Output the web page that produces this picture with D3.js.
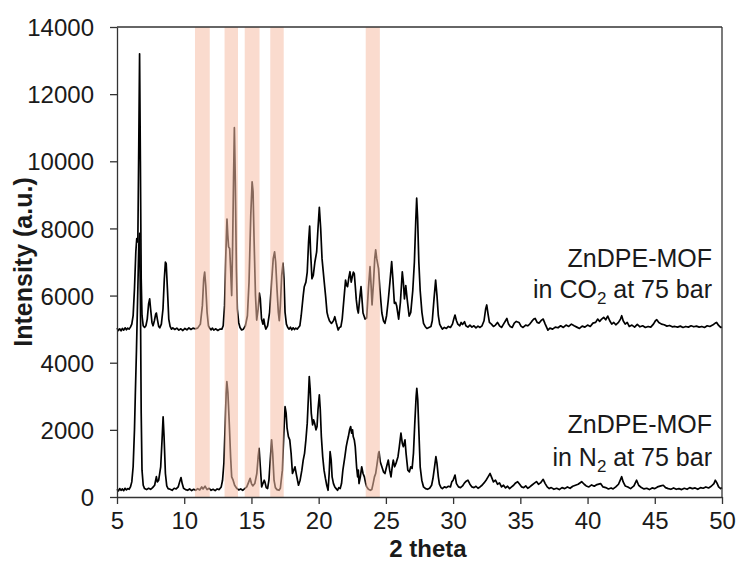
<!DOCTYPE html>
<html>
<head>
<meta charset="utf-8">
<script src="https://cdn.jsdelivr.net/npm/d3@7"></script>
<style>
  html, body { margin: 0; padding: 0; background: #fff; }
  svg { display: block; font-family: "Liberation Sans", Arial, sans-serif; }
</style>
</head>
<body>
<svg id="chart" width="738" height="563"></svg>
<script>
// ---- data ----
const xTicks = [5, 10, 15, 20, 25, 30, 35, 40, 45, 50];
const yTicks = [0, 2000, 4000, 6000, 8000, 10000, 12000, 14000];
const highlightBands = [[10.8, 11.9], [13.0, 14.0], [14.5, 15.6], [16.4, 17.4], [23.5, 24.55]];
const labelCO2 = ["ZnDPE-MOF", "in CO", "2", " at 75 bar"];
const labelN2 = ["ZnDPE-MOF", "in N", "2", " at 75 bar"];

// ZnDPE-MOF in CO2 at 75 bar : [2 theta, intensity]
const co2Pattern = [
[5.0,5030],[5.1,4960],[5.2,5010],[5.3,4950],[5.4,5020],[5.5,4970],[5.6,5040],[5.7,4980],[5.8,5030],[5.9,5000],
[6.0,5060],[6.1,5150],[6.2,5400],[6.3,6200],[6.4,7300],[6.47,7700],[6.55,7600],[6.62,10500],[6.68,13200],[6.74,10000],
[6.8,6500],[6.86,5400],[6.95,5100],[7.05,5050],[7.15,5100],[7.25,5300],[7.35,5750],[7.43,5900],[7.5,5600],[7.6,5200],
[7.68,5100],[7.78,5250],[7.88,5450],[7.93,5480],[8.0,5300],[8.1,5080],[8.18,5040],[8.3,5150],[8.42,5600],[8.52,6500],
[8.6,7000],[8.66,6950],[8.75,6200],[8.85,5300],[8.95,5080],[9.05,5000],[9.15,5040],[9.3,4990],[9.45,5030],[9.6,4970],
[9.75,5010],[9.9,4960],[10.05,5020],[10.2,4980],[10.35,5040],[10.5,4990],[10.65,5030],[10.8,5010],[11.0,5030],[11.2,5150],
[11.35,5700],[11.45,6500],[11.52,6700],[11.6,6300],[11.7,5500],[11.8,5100],[11.9,5020],[12.0,4980],[12.1,5030],[12.2,4970],
[12.35,5010],[12.5,4960],[12.65,5000],[12.8,5000],[12.9,5100],[13.0,5700],[13.1,7300],[13.18,8280],[13.24,7800],[13.3,7450],
[13.38,7400],[13.45,6800],[13.53,6000],[13.6,7500],[13.67,9500],[13.73,11000],[13.8,9400],[13.88,6800],[13.95,5600],[14.05,5200],
[14.15,5050],[14.27,4975],[14.4,5000],[14.55,5100],[14.7,5400],[14.82,6400],[14.95,8400],[15.05,9390],[15.12,9100],[15.2,7600],
[15.3,6000],[15.39,5270],[15.5,5600],[15.59,6070],[15.66,5900],[15.75,5300],[15.85,5150],[15.92,5300],[16.0,5100],[16.07,5000],
[16.2,5100],[16.35,5500],[16.5,6400],[16.62,7100],[16.72,7300],[16.8,7000],[16.9,6200],[17.0,5500],[17.07,5250],[17.15,5700],
[17.25,6600],[17.35,6970],[17.42,6500],[17.5,5500],[17.6,5150],[17.7,5050],[17.8,5000],[17.9,5060],[18.0,4980],[18.1,5040],
[18.2,4990],[18.3,5030],[18.4,5000],[18.5,5050],[18.6,5100],[18.7,5400],[18.85,6000],[18.93,6265],[19.05,6400],[19.15,6700],
[19.25,7600],[19.33,8070],[19.4,7300],[19.5,6500],[19.6,6600],[19.72,7000],[19.85,7300],[19.95,8000],[20.05,8630],[20.15,8000],
[20.25,7100],[20.4,6460],[20.52,5970],[20.62,5500],[20.7,5370],[20.8,5250],[20.95,5170],[21.1,5250],[21.2,5370],[21.3,5200],
[21.45,4975],[21.55,5050],[21.65,5070],[21.75,5300],[21.88,5900],[22.0,6460],[22.08,6300],[22.15,6265],[22.25,6550],[22.33,6710],
[22.42,6400],[22.5,6560],[22.58,6700],[22.65,6650],[22.72,6300],[22.8,5870],[22.88,5600],[22.95,5480],[23.05,5900],[23.15,6265],
[23.22,5900],[23.3,5480],[23.45,5300],[23.57,5330],[23.7,6200],[23.82,6860],[23.9,6300],[23.97,5720],[24.08,6400],[24.17,7100],
[24.24,7360],[24.32,7100],[24.45,6810],[24.55,6200],[24.7,5480],[24.82,5250],[24.93,5170],[25.05,5400],[25.18,5875],[25.3,6400],
[25.43,7010],[25.52,6500],[25.63,5770],[25.72,5800],[25.8,5700],[25.95,5300],[26.08,5800],[26.22,6710],[26.3,6400],[26.38,5900],
[26.48,6300],[26.58,5900],[26.73,5385],[26.85,5500],[27.0,6150],[27.12,7000],[27.22,8200],[27.29,8900],[27.36,8300],[27.45,7000],
[27.55,6150],[27.68,5500],[27.8,5170],[27.92,5080],[28.05,5020],[28.2,5050],[28.35,5080],[28.45,5250],[28.58,5900],[28.7,6460],
[28.8,6000],[28.9,5400],[29.0,5150],[29.1,5070],[29.2,5000],[29.35,5050],[29.5,5020],[29.65,5080],[29.8,5050],[29.95,5150],
[30.05,5300],[30.14,5420],[30.25,5250],[30.35,5150],[30.5,5100],[30.6,5200],[30.7,5140],[30.85,5220],[30.95,5100],[31.1,5060],
[31.25,5120],[31.4,5060],[31.55,5100],[31.7,5040],[31.85,5090],[32.0,5050],[32.15,5100],[32.3,5250],[32.42,5600],[32.5,5720],
[32.6,5450],[32.7,5200],[32.85,5150],[33.0,5080],[33.15,5120],[33.3,5200],[33.45,5100],[33.6,5050],[33.75,5150],[33.9,5250],
[34.0,5320],[34.12,5150],[34.25,5080],[34.4,5050],[34.55,5180],[34.7,5230],[34.9,5200],[35.05,5090],[35.2,5050],[35.4,5120],
[35.55,5100],[35.7,5150],[35.85,5230],[36.0,5300],[36.1,5320],[36.25,5200],[36.4,5180],[36.55,5260],[36.7,5300],[36.85,5150],
[37.05,4970],[37.2,5030],[37.4,5000],[37.6,5060],[37.8,5040],[38.0,5100],[38.2,5050],[38.4,5120],[38.6,5080],[38.8,5150],
[39.0,5100],[39.2,5060],[39.4,5020],[39.6,5090],[39.8,5060],[40.0,5120],[40.2,5080],[40.4,5180],[40.6,5200],[40.75,5300],
[40.9,5230],[41.05,5300],[41.2,5350],[41.35,5280],[41.5,5390],[41.65,5250],[41.8,5150],[41.95,5200],[42.1,5130],[42.3,5200],
[42.45,5300],[42.54,5400],[42.65,5250],[42.8,5150],[42.95,5200],[43.1,5080],[43.3,5120],[43.5,5060],[43.7,5140],[43.9,5070],
[44.1,5100],[44.3,5050],[44.5,5080],[44.7,5060],[44.9,5150],[45.05,5250],[45.15,5280],[45.3,5200],[45.5,5150],[45.7,5130],
[45.9,5090],[46.1,5110],[46.3,5070],[46.5,5080],[46.7,5060],[46.9,5090],[47.1,5050],[47.3,5080],[47.5,5060],[47.7,5100],
[47.9,5070],[48.1,5090],[48.3,5060],[48.5,5080],[48.7,5050],[48.9,5100],[49.1,5080],[49.3,5120],[49.5,5180],[49.6,5200],
[49.75,5110],[49.9,5050],[50.0,5060]
];

// ZnDPE-MOF in N2 at 75 bar : [2 theta, intensity]
const n2Pattern = [
[5.0,230],[5.1,180],[5.2,250],[5.3,200],[5.4,240],[5.5,190],[5.6,260],[5.7,210],[5.8,250],[5.9,230],
[6.0,300],[6.1,450],[6.2,900],[6.3,2000],[6.36,3000],[6.45,4400],[6.55,6200],[6.62,7500],[6.68,7850],[6.74,6000],
[6.8,2500],[6.86,800],[6.95,350],[7.05,250],[7.2,220],[7.35,260],[7.5,230],[7.65,280],[7.8,350],[7.93,605],
[8.0,450],[8.1,500],[8.25,900],[8.35,1700],[8.43,2390],[8.5,1800],[8.6,700],[8.7,330],[8.8,250],[8.95,230],
[9.1,200],[9.25,260],[9.4,240],[9.55,300],[9.68,480],[9.76,580],[9.85,400],[9.95,260],[10.1,220],[10.25,200],
[10.4,240],[10.55,190],[10.7,230],[10.85,200],[11.0,250],[11.15,210],[11.3,300],[11.4,240],[11.55,320],[11.7,220],
[11.85,260],[12.0,200],[12.15,230],[12.3,190],[12.45,240],[12.6,220],[12.75,300],[12.85,500],[12.95,1000],[13.05,2200],
[13.12,3100],[13.17,3435],[13.25,3100],[13.35,2200],[13.45,1200],[13.53,600],[13.62,520],[13.75,350],[13.9,260],[14.05,210],
[14.2,240],[14.35,200],[14.5,250],[14.65,300],[14.8,450],[14.9,556],[15.0,400],[15.1,330],[15.25,400],[15.4,700],
[15.5,1200],[15.57,1450],[15.66,900],[15.76,300],[15.85,400],[15.95,500],[16.0,450],[16.1,280],[16.2,250],[16.3,500],
[16.4,1100],[16.5,1700],[16.58,1300],[16.68,500],[16.78,280],[16.9,220],[17.05,200],[17.15,260],[17.3,800],[17.42,2000],
[17.5,2690],[17.58,2500],[17.65,2050],[17.75,1800],[17.85,1700],[17.95,1300],[18.05,700],[18.15,800],[18.24,900],[18.35,650],
[18.5,350],[18.62,500],[18.75,800],[18.85,1100],[18.95,1300],[19.05,1700],[19.15,2200],[19.25,3100],[19.3,3585],[19.37,3200],
[19.45,2500],[19.55,2150],[19.62,2300],[19.7,2200],[19.8,2000],[19.88,2100],[19.95,2600],[20.05,3040],[20.12,2600],[20.2,1800],
[20.3,1200],[20.4,800],[20.5,560],[20.6,350],[20.7,200],[20.78,700],[20.85,1350],[20.93,1100],[21.0,600],[21.1,400],
[21.2,300],[21.3,250],[21.4,200],[21.5,280],[21.6,250],[21.7,400],[21.8,800],[21.95,1200],[22.05,1500],[22.15,1700],
[22.21,1800],[22.3,2000],[22.38,2100],[22.45,1900],[22.52,2000],[22.57,1800],[22.65,1700],[22.72,1500],[22.82,900],[22.9,600],
[22.95,800],[23.0,400],[23.1,600],[23.2,900],[23.3,700],[23.4,600],[23.5,400],[23.57,307],[23.7,230],[23.85,200],
[23.95,220],[24.05,400],[24.15,600],[24.24,700],[24.35,1000],[24.45,1300],[24.49,1350],[24.58,1050],[24.7,900],[24.82,750],
[24.93,700],[25.05,900],[25.18,1100],[25.28,800],[25.38,600],[25.47,900],[25.55,1100],[25.65,900],[25.75,1000],[25.9,1200],
[26.0,1500],[26.12,1900],[26.22,1600],[26.3,1500],[26.42,1700],[26.5,1300],[26.63,800],[26.75,750],[26.85,900],[26.95,850],
[27.05,1300],[27.15,2200],[27.25,3000],[27.3,3240],[27.37,2900],[27.45,2000],[27.55,900],[27.67,500],[27.8,300],[27.95,250],
[28.1,230],[28.25,260],[28.4,350],[28.5,550],[28.62,900],[28.72,1200],[28.8,1000],[28.9,600],[28.98,380],[29.1,280],
[29.2,250],[29.35,300],[29.5,280],[29.65,320],[29.8,300],[29.9,450],[30.0,500],[30.14,655],[30.25,400],[30.4,300],
[30.55,280],[30.7,330],[30.85,420],[31.0,480],[31.1,500],[31.25,380],[31.4,300],[31.55,280],[31.7,320],[31.85,260],
[32.0,300],[32.15,350],[32.3,420],[32.45,500],[32.6,600],[32.75,700],[32.85,600],[33.0,450],[33.15,500],[33.3,380],
[33.45,420],[33.6,300],[33.75,350],[33.9,270],[34.05,320],[34.2,250],[34.35,300],[34.5,350],[34.65,420],[34.8,456],
[34.95,380],[35.1,300],[35.25,280],[35.4,330],[35.55,260],[35.7,300],[35.85,350],[36.0,400],[36.2,460],[36.35,380],
[36.5,420],[36.7,527],[36.85,400],[37.0,300],[37.15,250],[37.3,280],[37.5,230],[37.7,260],[37.9,220],[38.1,280],
[38.3,250],[38.5,300],[38.7,260],[38.9,320],[39.1,350],[39.3,380],[39.56,456],[39.75,380],[39.9,330],[40.1,300],
[40.3,360],[40.5,320],[40.7,370],[40.97,400],[41.15,300],[41.35,280],[41.55,240],[41.75,270],[41.9,240],[42.1,300],
[42.3,380],[42.45,520],[42.54,605],[42.65,450],[42.8,330],[43.0,300],[43.2,250],[43.45,330],[43.65,500],[43.8,350],
[44.0,280],[44.2,240],[44.4,260],[44.6,220],[44.8,270],[45.0,250],[45.2,300],[45.45,330],[45.63,350],[45.8,280],
[46.0,250],[46.2,230],[46.4,270],[46.6,230],[46.8,250],[47.0,220],[47.2,260],[47.4,230],[47.6,280],[47.8,250],
[48.0,270],[48.2,230],[48.4,280],[48.6,260],[48.8,300],[49.0,270],[49.2,320],[49.4,400],[49.5,500],[49.62,420],
[49.75,300],[49.9,250],[50.0,280]
];

// ---- drawing ----
const svg = d3.select("#chart");
const m = { left: 117, right: 722, top: 27, bottom: 497 };
const x = d3.scaleLinear().domain([5, 50]).range([m.left, m.right]);
const y = d3.scaleLinear().domain([0, 14000]).range([m.bottom, m.top]);
const axisColor = "#333";
const textColor = "#1a1a1a";

const line = d3.line().x(d => x(d[0])).y(d => y(d[1]));

const g = svg.append("g");
g.append("path").datum(co2Pattern).attr("d", line)
  .attr("fill", "none").attr("stroke", "#000").attr("stroke-width", 1.7).attr("stroke-linejoin", "round");
g.append("path").datum(n2Pattern).attr("d", line)
  .attr("fill", "none").attr("stroke", "#000").attr("stroke-width", 1.7).attr("stroke-linejoin", "round");

// highlight bands drawn over the patterns
svg.append("g").selectAll("rect").data(highlightBands).join("rect")
  .attr("x", d => x(d[0])).attr("width", d => x(d[1]) - x(d[0]))
  .attr("y", y(14000)).attr("height", y(0) - y(14000))
  .attr("fill", "rgb(245,190,165)").attr("fill-opacity", 0.55);

// frame (top + right)
svg.append("line").attr("x1", x(5)).attr("x2", x(50)).attr("y1", y(14000)).attr("y2", y(14000))
  .attr("stroke", axisColor).attr("stroke-width", 1.3);
svg.append("line").attr("x1", x(50)).attr("x2", x(50)).attr("y1", y(14000)).attr("y2", y(0))
  .attr("stroke", axisColor).attr("stroke-width", 1.3);

// axes
const xAxis = svg.append("g").attr("transform", `translate(0,${m.bottom})`)
  .call(d3.axisBottom(x).tickValues(xTicks).tickSize(7).tickPadding(8).tickSizeOuter(0));
const yAxis = svg.append("g").attr("transform", `translate(${m.left},0)`)
  .call(d3.axisLeft(y).tickValues(yTicks).tickSize(7).tickPadding(16).tickSizeOuter(0).tickFormat(d3.format("d")));
[xAxis, yAxis].forEach(a => {
  a.select(".domain").attr("stroke", axisColor).attr("stroke-width", 1.3);
  a.selectAll(".tick line").attr("stroke", axisColor).attr("stroke-width", 1.3);
  a.selectAll(".tick text").attr("fill", textColor)
    .style("font-family", "'Liberation Sans', Arial, sans-serif").style("font-size", "24px");
});
yAxis.selectAll(".tick text").attr("dy", "0.36em");

// axis titles
svg.append("text").attr("x", 428).attr("y", 557).attr("text-anchor", "middle")
  .attr("font-size", 24).attr("font-weight", "bold").attr("fill", textColor).text("2 theta");
svg.append("text").attr("transform", `translate(32,${(m.top + m.bottom) / 2}) rotate(-90)`)
  .attr("text-anchor", "middle").attr("font-size", 25).attr("font-weight", "bold").attr("fill", textColor)
  .text("Intensity (a.u.)");

// annotations
function annot(lines, xr, y1, y2) {
  svg.append("text").attr("x", xr).attr("y", y1).attr("text-anchor", "end")
    .attr("font-size", 25).attr("fill", textColor).text(lines[0]);
  const t = svg.append("text").attr("x", xr).attr("y", y2).attr("text-anchor", "end")
    .attr("font-size", 25).attr("fill", textColor);
  t.append("tspan").text(lines[1]);
  t.append("tspan").attr("font-size", 17).attr("dy", 6).text(lines[2]);
  t.append("tspan").attr("dy", -6).text(lines[3]);
}
annot(labelCO2, 712, 267, 298);
annot(labelN2, 712, 433, 466);
</script>
</body>
</html>
